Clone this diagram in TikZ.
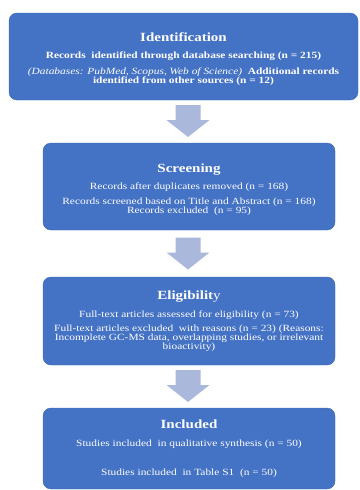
\documentclass[tikz,border=0pt]{standalone}
\usepackage{fontspec}
\setmainfont{Liberation Serif}[FakeStretch=1.2]

\definecolor{boxblue}{HTML}{4472C4}
\definecolor{arrowblue}{HTML}{AAB8DC}

\tikzset{
  stage/.style={fill=boxblue, draw=boxblue!90!black, rounded corners=8pt,
    text=white, align=center, inner sep=0pt,
    font=\fontsize{9.5}{9}\selectfont},
  downarrow/.pic={
    \fill[arrowblue] (-12.5,0) -- (12.5,0) -- (12.5,15) -- (21.5,15)
      -- (0,32) -- (-21.5,15) -- (-12.5,15) -- cycle;
  }
}
\newcommand{\stagehead}[1]{{\fontsize{12.5}{9}\selectfont\bfseries #1}}

\begin{document}
\begin{tikzpicture}[x=1pt,y=-1pt]
\useasboundingbox (0,0) rectangle (359,490);

% the four stages
\node[stage, minimum width=349pt, minimum height=87pt] (ident) at (183.5,56.5)
  {\mbox{}\\[5pt]
   \stagehead{Identification}\\[8pt]
   \textbf{Records\ \ identified through database searching (n = 215)}\\[7pt]
   \textit{(Databases: PubMed, Scopus, Web of Science)}\ \ \textbf{Additional records}\\
   \textbf{identified from other sources (n = 12)}};
\node[stage, minimum width=292pt, minimum height=87pt] (screen) at (189,186.5)
  {\mbox{}\\[6pt]
   \stagehead{Screening}\\[7pt]
   Records after duplicates removed (n = 168)\\[6pt]
   Records screened based on Title and Abstract (n = 168)\\
   Records excluded\ \ (n = 95)};
\node[stage, minimum width=292pt, minimum height=88pt] (elig) at (189,321)
  {\stagehead{Eligibilit}{\fontsize{12.5}{9}\selectfont y}\\[8pt]
   Full-text articles assessed for eligibility (n = 73)\\[5pt]
   Full-text articles excluded\ \ with reasons (n = 23) (Reasons:\\
   Incomplete GC-MS data, overlapping studies, or irrelevant\\
   bioactivity)};
\node[stage, minimum width=292pt, minimum height=81pt] (incl) at (189,448.5)
  {\stagehead{Included}\\[9pt]
   Studies included\ \ in qualitative synthesis (n = 50)\\[20pt]
   Studies included\ \ in Table S1\ \ (n = 50)};

% block arrows between them
\pic at (188,105) {downarrow};
\pic at (188,237.5) {downarrow};
\pic at (188,370) {downarrow};
\end{tikzpicture}
\end{document}
